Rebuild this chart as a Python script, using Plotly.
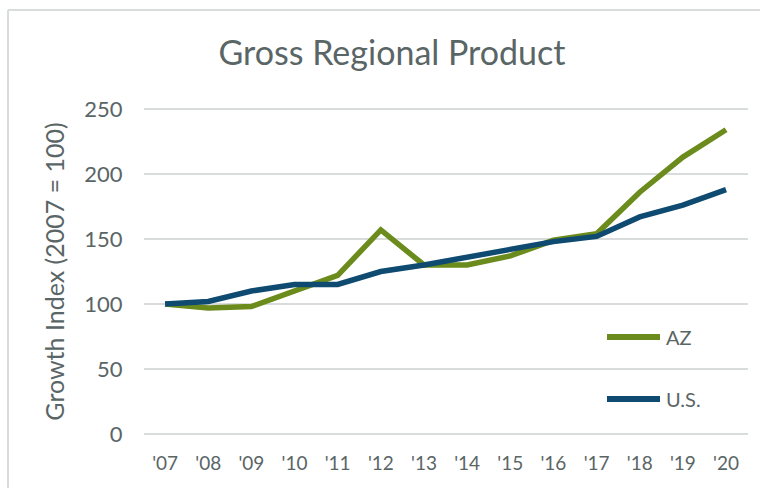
import plotly.graph_objects as go

# Growth index of gross regional product, 2007 = 100
years = ["'07", "'08", "'09", "'10", "'11", "'12", "'13", "'14", "'15", "'16", "'17", "'18", "'19", "'20"]
az = [100, 97, 98, 110, 122, 157, 130, 130, 137, 149, 154, 186, 213, 234]
us = [100, 102, 110, 115, 115, 125, 130, 136, 142, 148, 152, 167, 176, 188]
y_ticks = [0, 50, 100, 150, 200, 250]

W, H = 760, 488
TEXT = "#5a6566"
GRID = "#d9dcdc"
AZ_COLOR = "#6b8c1c"
US_COLOR = "#0f4b70"
FONT = "Lato"

fig = go.Figure()
fig.add_trace(go.Scatter(x=years, y=az, mode="lines", name="AZ",
                         line=dict(color=AZ_COLOR, width=5.5), showlegend=False))
fig.add_trace(go.Scatter(x=years, y=us, mode="lines", name="U.S.",
                         line=dict(color=US_COLOR, width=5.5), showlegend=False))


def px(x):
    return x / W


def py(y):
    return 1 - y / H


# Outer chart border (left and top edges visible)
fig.add_shape(type="line", xref="paper", yref="paper", x0=px(8), x1=px(8), y0=py(10), y1=py(500),
              line=dict(color=GRID, width=2))
fig.add_shape(type="line", xref="paper", yref="paper", x0=px(8), x1=px(770), y0=py(10), y1=py(10),
              line=dict(color=GRID, width=2))

# Legend drawn beside the plot
for name, color, ypos in [("AZ", AZ_COLOR, 337), ("U.S.", US_COLOR, 399)]:
    fig.add_shape(type="line", xref="paper", yref="paper", x0=px(607), x1=px(660), y0=py(ypos), y1=py(ypos),
                  line=dict(color=color, width=6))
    fig.add_annotation(xref="paper", yref="paper", x=px(664), y=py(ypos), text=name, showarrow=False,
                       xanchor="left", yanchor="middle", font=dict(family=FONT, size=20, color=TEXT))

fig.update_layout(
    width=W, height=H,
    margin=dict(l=0, r=0, t=0, b=0, pad=0, autoexpand=False),
    paper_bgcolor="white", plot_bgcolor="white",
    title=dict(text="Gross Regional Product", x=392 / W, xanchor="center", y=py(53), yanchor="middle",
               font=dict(family=FONT, size=34, color=TEXT)),
    font=dict(family=FONT, color=TEXT),
    xaxis=dict(type="category", domain=[px(143.5), px(747.6)], range=[-0.5, 13.5], automargin=False,
               showgrid=False, showline=False, zeroline=False, ticks="",
               ticklabelstandoff=9, tickfont=dict(family=FONT, size=19, color=TEXT)),
    yaxis=dict(domain=[py(440.5), py(102.5)], range=[-5, 255], tickvals=y_ticks, automargin=False,
               showgrid=True, gridcolor=GRID, gridwidth=2, zeroline=False, showline=False, ticks="",
               ticklabelstandoff=20, tickfont=dict(family=FONT, size=22, color=TEXT),
               title=dict(text="Growth Index (2007 = 100)", standoff=12,
                          font=dict(family=FONT, size=25, color=TEXT))),
)

fig.write_html("out.html")
